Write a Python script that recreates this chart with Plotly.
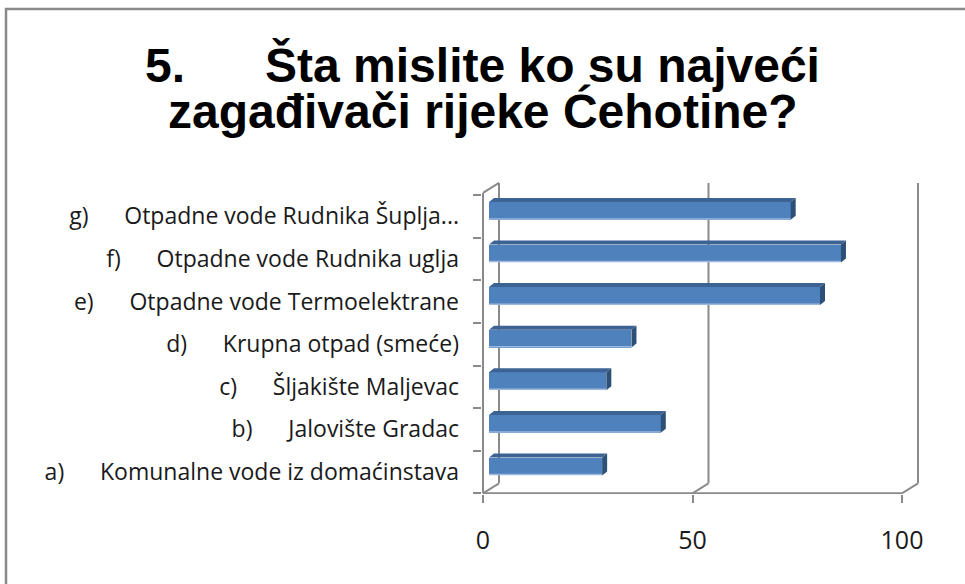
import plotly.graph_objects as go

# ---------------- data ----------------
letters = ["a)", "b)", "c)", "d)", "e)", "f)", "g)"]
categories = [
    "Komunalne vode iz domaćinstava",
    "Jalovište Gradac",
    "Šljakište Maljevac",
    "Krupna otpad (smeće)",
    "Otpadne vode Termoelektrane",
    "Otpadne vode Rudnika uglja",
    "Otpadne vode Rudnika Šuplja...",
]
values = [27, 41, 28, 34, 79, 84, 72]
x_tickvals = [0, 50, 100]
x_ticktext = ["0", "50", "100"]
title_line1 = "5.\u00a0\u00a0\u00a0\u00a0\u00a0\u00a0Šta mislite ko su najveći"
title_line2 = "zagađivači rijeke Ćehotine?"

# ---------------- geometry ----------------
W, H = 965, 584
L, R, T, B = 482, 38, 176, 90
PXX = 4.19      # px per x unit
X0PX = 483      # px of x=0 on front plane
PYY = 42.6      # px per category
Y0PX = 472      # px of first category centre
plotW = W - L - R
plotH = H - T - B
x_range = [(L - X0PX) / PXX, (W - R - X0PX) / PXX]
y_range = [(Y0PX - (H - B)) / PYY, (Y0PX - T) / PYY]

# 3D depth offsets (in data units)
wall_dx, wall_dy = 16 / PXX, 10 / PYY
bar_dx, bar_dy = 5 / PXX, 4 / PYY
bar_base = 6 / PXX
bar_shift = 0.13
bar_h = 0.42
n = len(values)
front_top = n - 0.5 + 0.05

def px2paper_x(px):
    return (px - L) / plotW

def px2paper_y(py):
    return (H - B - py) / plotH

gap = "\u00a0" * 6
ticktext = [f"{l}{gap}{c}" for l, c in zip(letters, categories)]

fig = go.Figure()

# top faces and side faces
top_x, top_y, side_x, side_y, edge_x, edge_y = [], [], [], [], [], []
for i, v in enumerate(values):
    yc = i + bar_shift
    yt, yb = yc + bar_h / 2, yc - bar_h / 2
    x0, x1 = bar_base, bar_base + v
    top_x += [x0, x1, x1 + bar_dx, x0 + bar_dx, x0, None]
    top_y += [yt, yt, yt + bar_dy, yt + bar_dy, yt, None]
    side_x += [x1, x1 + bar_dx, x1 + bar_dx, x1, x1, None]
    side_y += [yt, yt + bar_dy, yb + bar_dy, yb, yt, None]
    edge_x += [x0, x1, None]
    edge_y += [yb + 0.02, yb + 0.02, None]

fig.add_trace(go.Bar(
    orientation="h", y=[i + bar_shift for i in range(n)], x=values, base=bar_base,
    width=bar_h, marker=dict(color="#4F81BD", line=dict(width=0)),
    hovertemplate="%{x}<extra></extra>", showlegend=False,
))
fig.add_trace(go.Scatter(x=top_x, y=top_y, fill="toself", fillcolor="#3C6394",
                         mode="lines", line=dict(width=0, color="#3C6394"),
                         hoverinfo="skip", showlegend=False))
fig.add_trace(go.Scatter(x=side_x, y=side_y, fill="toself", fillcolor="#2D5077",
                         mode="lines", line=dict(width=0, color="#2D5077"),
                         hoverinfo="skip", showlegend=False))
fig.add_trace(go.Scatter(x=edge_x, y=edge_y, mode="lines",
                         line=dict(width=1.5, color="#9CB9DD"),
                         hoverinfo="skip", showlegend=False))

# walls / axes
gc = "#8A8A8A"
shapes = []
def seg(x0, y0, x1, y1):
    shapes.append(dict(type="line", xref="x", yref="y", x0=x0, y0=y0, x1=x1, y1=y1,
                       line=dict(color=gc, width=2), layer="below"))

for v in x_tickvals:
    seg(v, -0.5, v + wall_dx, -0.5 + wall_dy)
    seg(v + wall_dx, -0.5 + wall_dy, v + wall_dx, front_top + wall_dy)
seg(0, -0.5, x_tickvals[-1], -0.5)
seg(0, -0.5, 0, front_top)
seg(0, front_top, wall_dx, front_top + wall_dy)

# outer border (only top and left visible)
shapes.append(dict(type="rect", xref="paper", yref="paper",
                   x0=px2paper_x(6), y0=px2paper_y(H + 20), x1=px2paper_x(W + 20), y1=px2paper_y(9),
                   line=dict(color="#898989", width=2.5), layer="above"))

fig.update_layout(
    width=W, height=H,
    margin=dict(l=L, r=R, t=T, b=B),
    paper_bgcolor="white", plot_bgcolor="white",
    shapes=shapes,
    bargap=0,
    xaxis=dict(range=x_range, showgrid=False, zeroline=False, showline=False,
               tickmode="array", tickvals=x_tickvals, ticktext=x_ticktext,
               ticks="outside", ticklen=8, tickwidth=2, tickcolor=gc,
               ticklabelstandoff=16,
               tickfont=dict(family="Open Sans", size=25, color="#1a1a1a")),
    yaxis=dict(range=y_range, showgrid=False, zeroline=False, showline=False,
               tickmode="array", tickvals=list(range(n)), ticktext=ticktext,
               ticks="", ticklabelstandoff=22,
               tickfont=dict(family="Open Sans", size=23, color="#1a1a1a"),
               minor=dict(ticks="outside", ticklen=8, tickwidth=2, tickcolor=gc,
                          tick0=-0.5, dtick=1, showgrid=False)),
    annotations=[
        dict(text=f"<b>{title_line1}</b>", xref="paper", yref="paper",
             x=px2paper_x(482.5), y=px2paper_y(65), xanchor="center", yanchor="middle",
             showarrow=False, font=dict(family="Liberation Sans, Arial", size=48, color="black")),
        dict(text=f"<b>{title_line2}</b>", xref="paper", yref="paper",
             x=px2paper_x(482.5), y=px2paper_y(111), xanchor="center", yanchor="middle",
             showarrow=False, font=dict(family="Liberation Sans, Arial", size=48, color="black")),
    ],
)

fig.write_html("out.html",
               config={"displayModeBar": False},
               post_script="document.body.style.margin='0';document.body.style.overflow='hidden';")
